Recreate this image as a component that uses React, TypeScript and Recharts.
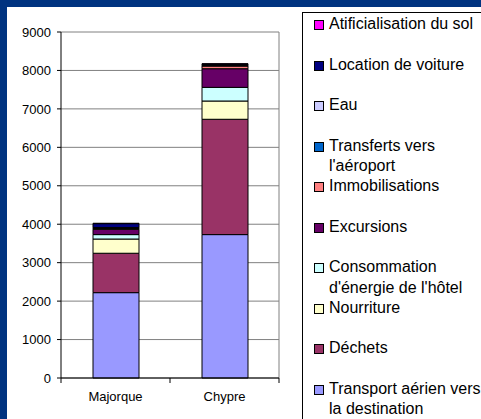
import React from 'react';
import { BarChart, Bar, XAxis, YAxis, CartesianGrid } from 'recharts';

const destinations = ['Majorque', 'Chypre'];

// bottom of the stack first
const seriesNames = [
  'Transport aérien vers la destination',
  'Déchets',
  'Nourriture',
  "Consommation d'énergie de l'hôtel",
  'Excursions',
  'Immobilisations',
  "Transferts vers l'aéroport",
  'Eau',
  'Location de voiture',
  'Atificialisation du sol',
];

const seriesColors = [
  '#9999FF', '#993366', '#FFFFCC', '#CCFFFF', '#660066',
  '#FF8080', '#0066CC', '#CCCCFF', '#000080', '#FF00FF',
];

const majorqueValues = [2220, 1025, 370, 115, 135, 25, 10, 15, 100, 10];
const chypreValues = [3730, 3000, 475, 355, 485, 70, 10, 15, 25, 10];

const yTicks = [0, 1000, 2000, 3000, 4000, 5000, 6000, 7000, 8000, 9000];

const data = destinations.map((name, i) => {
  const vals = i === 0 ? majorqueValues : chypreValues;
  const row: Record<string, any> = { name };
  seriesNames.forEach((s, j) => { row['s' + j] = vals[j]; });
  return row;
});

const FONT = '"Liberation Sans", Arial, sans-serif';

function CategoryTick(props: any) {
  const { x, y, payload, index, visibleTicksCount, width } = props;
  const half = payload?.offset ?? (width && visibleTicksCount ? width / visibleTicksCount / 2 : 0);
  const last = index === visibleTicksCount - 1;
  return (
    <g>
      <line x1={x - half} x2={x - half} y1={y} y2={y + 5} stroke="#000" />
      {last && <line x1={x + half} x2={x + half} y1={y} y2={y + 5} stroke="#000" />}
      <text x={x} y={y + 23} textAnchor="middle" fontSize={13} fontFamily={FONT} fill="#000">
        {payload.value}
      </text>
    </g>
  );
}

function LegendBox() {
  // legend lists the top of the stack first
  const items = seriesNames.map((s, j) => ({ name: s, color: seriesColors[j] })).reverse();
  return (
    <div
      style={{
        position: 'absolute',
        left: 302,
        top: 12,
        border: '1px solid #000',
        width: 200,
        height: 420,
        boxSizing: 'border-box',
        paddingTop: 1,
        background: '#fff',
        fontFamily: FONT,
        fontSize: 16,
        lineHeight: '20.5px',
        color: '#000',
      }}
    >
      {items.map((it) => (
        <div key={it.name} style={{ height: 40.5, display: 'flex', alignItems: 'flex-start', paddingLeft: 11 }}>
          <span
            style={{
              width: 8,
              height: 8,
              marginTop: 6,
              marginRight: 5,
              border: '1px solid #000',
              background: it.color,
              flex: 'none',
            }}
          />
          <span style={{ width: 156 }}>{it.name}</span>
        </div>
      ))}
    </div>
  );
}

export default function App() {
  return (
    <div style={{ position: 'absolute', left: 0, top: 0, width: 481, height: 419, overflow: 'hidden', background: '#003380' }}>
      <div style={{ position: 'absolute', left: 7, top: 7, right: 0, bottom: 0, background: '#fff' }} />
      <div style={{ position: 'absolute', left: 0, top: 0 }}>
        <BarChart
          width={481}
          height={419}
          data={data}
          margin={{ top: 32, right: 202, bottom: 11, left: 7 }}
          barSize={46}
        >
          <CartesianGrid
            stroke="#808080"
            horizontal={true}
            vertical={true}
            verticalCoordinatesGenerator={({ offset }: any) => [offset.left + offset.width]}
          />
          <XAxis
            dataKey="name"
            axisLine={{ stroke: '#000' }}
            tickLine={false}
            tickSize={0}
            tickMargin={0}
            height={30}
            tick={<CategoryTick />}
            interval={0}
          />
          <YAxis
            domain={[0, 9000]}
            ticks={yTicks}
            width={54}
            axisLine={{ stroke: '#000' }}
            tickLine={{ stroke: '#000' }}
            tickSize={4}
            tickMargin={6}
            tick={{ fontSize: 13, fontFamily: FONT, fill: '#000' }}
            interval={0}
          />
          {seriesNames.map((s, j) => (
            <Bar
              key={s}
              dataKey={'s' + j}
              name={s}
              stackId="a"
              fill={seriesColors[j]}
              stroke="#000"
              strokeWidth={1}
              isAnimationActive={false}
            />
          ))}
        </BarChart>
      </div>
      <LegendBox />
    </div>
  );
}
